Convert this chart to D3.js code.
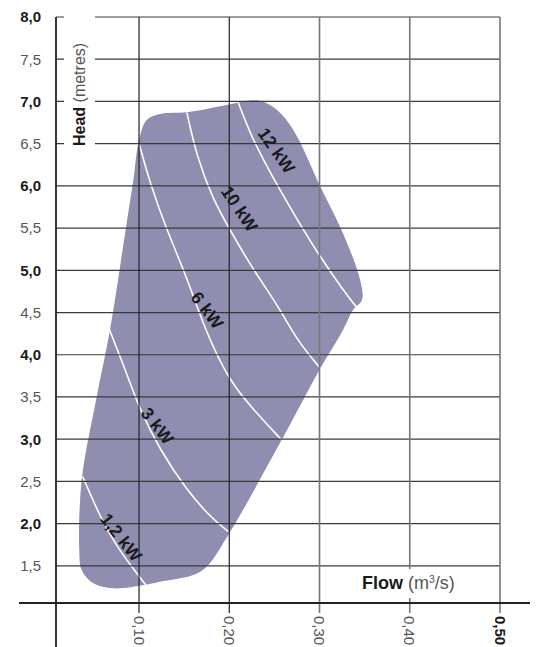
<!DOCTYPE html>
<html><head><meta charset="utf-8">
<script src="https://cdn.jsdelivr.net/npm/d3@7"></script>
<style>body{margin:0;background:#fff}svg{display:block}</style>
</head><body><svg id="c" width="537" height="647"></svg>
<script>
// ---- data ----
const yTicks = [1.5,2.0,2.5,3.0,3.5,4.0,4.5,5.0,5.5,6.0,6.5,7.0,7.5,8.0];
const yTickLabels = ["1,5","2,0","2,5","3,0","3,5","4,0","4,5","5,0","5,5","6,0","6,5","7,0","7,5","8,0"];
const xTicks = [0.10,0.20,0.30,0.40,0.50];
const xTickLabels = ["0,10","0,20","0,30","0,40","0,50"];
// operating envelope (flow m3/s, head m)
const envelope = [
 [0.100,6.543],[0.1085,6.78],[0.123,6.851],[0.153,6.871],[0.201,6.966],[0.225,7.014],[0.237,7.0],
 [0.253,6.898],[0.271,6.662],[0.301,5.99],[0.326,5.438],[0.345,4.885],[0.347,4.648],[0.337,4.53],
 [0.326,4.293],[0.301,3.839],[0.258,2.99],[0.201,1.904],[0.175,1.49],[0.160,1.392],[0.123,1.312],
 [0.1057,1.273],[0.0715,1.234],[0.0493,1.293],[0.0365,1.451],[0.0338,1.688],[0.0365,2.517],
 [0.0531,3.503],[0.0678,4.293],[0.0863,5.557],[0.0937,6.07]
];
// power curves
const curve12 = [[0.210,6.985],[0.223,6.622],[0.2415,6.227],[0.271,5.675],[0.3005,5.161],[0.326,4.767],[0.342,4.55]];
const curve10 = [[0.153,6.871],[0.1639,6.345],[0.1823,5.831],[0.2008,5.477],[0.2266,5.003],[0.2526,4.609],[0.2747,4.175],[0.301,3.839]];
const curve6 = [[0.100,6.504],[0.1122,6.03],[0.1307,5.477],[0.1528,4.924],[0.1731,4.293],[0.201,3.662],[0.234,3.266],[0.258,2.99]];
const curve3 = [[0.0660,4.332],[0.0863,3.78],[0.1011,3.346],[0.1232,2.872],[0.1528,2.398],[0.1786,2.082],[0.199,1.904]];
const curve1_2 = [[0.0376,2.556],[0.0568,2.082],[0.0753,1.727],[0.0974,1.412],[0.1076,1.273]];
const curveNames = ["12 kW","10 kW","6 kW","3 kW","1,2 kW"];
const labelPos = [[0.2525,6.42],[0.2115,5.73],[0.1758,4.53],[0.1205,3.16],[0.0805,1.84]];
const labelAngle = [55,56,53,52,52];

// ---- drawing ----
const svg = d3.select("#c");
const x = d3.scaleLinear().domain([0.008,0.5]).range([56,500]);
const y = d3.scaleLinear().domain([1.06,8.0]).range([603,17]);
const font = "'Liberation Sans', Arial, Helvetica, sans-serif";

const line = d3.line().x(d=>x(d[0])).y(d=>y(d[1]));

svg.append("path").datum(envelope)
  .attr("d", line.curve(d3.curveCatmullRomClosed.alpha(0.5)))
  .attr("fill","#8f8db0");

const curves = [curve12,curve10,curve6,curve3,curve1_2];
const cl = d3.line().x(d=>x(d[0])).y(d=>y(d[1])).curve(d3.curveBasis);
svg.selectAll(".pc").data(curves).enter().append("path")
  .attr("d", cl).attr("fill","none").attr("stroke","#fff").attr("stroke-width",1.6);

// horizontal gridlines
svg.selectAll(".hg").data(yTicks).enter().append("line")
  .attr("x1",56).attr("x2",x(0.5)).attr("y1",d=>y(d)).attr("y2",d=>y(d))
  .attr("stroke","#3a3a3a").attr("stroke-width",1.2);
// vertical gridlines + ticks
svg.selectAll(".vg").data(xTicks).enter().append("line")
  .attr("x1",d=>x(d)).attr("x2",d=>x(d)).attr("y1",y(8.0)).attr("y2",613)
  .attr("stroke",(d,i)=> i<2 ? "#222" : "#777").attr("stroke-width",(d,i)=> i<2 ? 1.2 : 1.6);

// axes
svg.append("line").attr("x1",56).attr("x2",56).attr("y1",y(8.0)).attr("y2",647)
  .attr("stroke","#222").attr("stroke-width",1.8);
svg.append("line").attr("x1",19).attr("x2",530).attr("y1",y(1.06)).attr("y2",y(1.06))
  .attr("stroke","#222").attr("stroke-width",2.2);

// y tick labels
svg.selectAll(".yl").data(yTicks).enter().append("text")
  .attr("x",41).attr("y",d=>y(d)).attr("dy","0.36em").attr("text-anchor","end")
  .attr("font-family",font).attr("font-size",15)
  .attr("font-weight",d=> Number.isInteger(d) ? "bold" : "normal")
  .attr("fill",d=> Number.isInteger(d) ? "#1a1a1a" : "#555")
  .text((d,i)=>yTickLabels[i]);

// x tick labels (rotated)
svg.selectAll(".xl").data(xTicks).enter().append("text")
  .attr("transform",d=>`translate(${x(d)},616) rotate(90)`)
  .attr("dy","0.36em")
  .attr("font-family",font).attr("font-size",15)
  .attr("font-weight",(d,i)=> i===4 ? "bold" : "normal")
  .attr("fill",(d,i)=> i===4 ? "#1a1a1a" : "#555")
  .text((d,i)=>xTickLabels[i]);

// Head label with white background
svg.append("rect").attr("x",64).attr("y",10).attr("width",31).attr("height",142).attr("fill","#fff");
const ht = svg.append("text").attr("transform","translate(85,146) rotate(-90)")
  .attr("font-family",font).attr("font-size",16).attr("fill","#1a1a1a");
ht.append("tspan").attr("font-weight","bold").text("Head");
ht.append("tspan").attr("fill","#555").text(" (metres)");

// Flow label with white background
svg.append("rect").attr("x",358).attr("y",569).attr("width",104).attr("height",29).attr("fill","#fff");
const ft = svg.append("text").attr("x",362).attr("y",589)
  .attr("font-family",font).attr("font-size",18).attr("fill","#1a1a1a");
ft.append("tspan").attr("font-weight","bold").text("Flow");
ft.append("tspan").attr("fill","#555").text(" (m");
ft.append("tspan").attr("fill","#555").attr("font-size",10.5).attr("dy",-6.5).text("3");
ft.append("tspan").attr("fill","#555").attr("dy",6.5).text("/s)");

// curve labels
svg.selectAll(".cl").data(curveNames).enter().append("text")
  .attr("transform",(d,i)=>`translate(${x(labelPos[i][0])},${y(labelPos[i][1])}) rotate(${labelAngle[i]})`)
  .attr("text-anchor","middle").attr("dy","0.36em")
  .attr("font-family",font).attr("font-size",17.5).attr("font-weight","bold").attr("fill","#1a1a1a")
  .text(d=>d);
</script></body></html>
